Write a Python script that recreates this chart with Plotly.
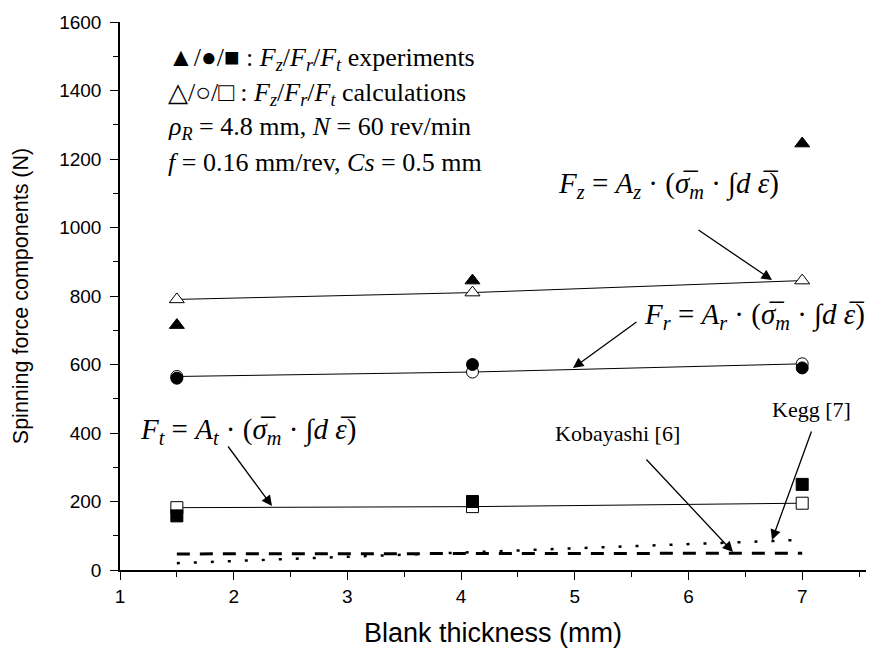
import plotly.graph_objects as go

thickness = [1.5, 4.1, 7.0]
fz_exp = [715, 845, 1245]
fz_calc = [790, 810, 845]
fr_exp = [560, 600, 590]
fr_calc = [565, 578, 602]
ft_exp = [158, 200, 250]
ft_calc = [182, 185, 195]
kobayashi = [47, 48, 49]
kegg = [20, 52, 88]

SERIF = "Liberation Serif, Times New Roman, serif"
SANS = "Liberation Sans, Arial, sans-serif"

fig = go.Figure()

# calculation lines
for ys in (fz_calc, fr_calc, ft_calc):
    fig.add_trace(go.Scatter(x=thickness, y=ys, mode="lines",
                             line=dict(color="black", width=1), showlegend=False))

fig.add_trace(go.Scatter(x=thickness, y=kobayashi, mode="lines",
                         line=dict(color="black", width=3, dash="13px,10px"), showlegend=False))
fig.add_trace(go.Scatter(x=thickness, y=kegg, mode="lines",
                         line=dict(color="black", width=2.5, dash="3px,14px"), showlegend=False))

def mk(ys, sym, filled):
    fig.add_trace(go.Scatter(
        x=thickness, y=ys, mode="markers", showlegend=False,
        marker=dict(symbol=sym, size=12 if sym != "triangle-up" else 13,
                    color="black" if filled else "white",
                    line=dict(color="black", width=1))))

mk(fz_calc, "triangle-up", False)
mk(fr_calc, "circle", False)
mk(ft_calc, "square", False)
mk(fz_exp, "triangle-up", True)
mk(fr_exp, "circle", True)
mk(ft_exp, "square", True)

ann = []
legend_lines = [
    "▲/●/■ : <i>F<sub>z</sub></i>/<i>F<sub>r</sub></i>/<i>F<sub>t</sub></i> experiments",
    "△/○/□ : <i>F<sub>z</sub></i>/<i>F<sub>r</sub></i>/<i>F<sub>t</sub></i> calculations",
    "<i>ρ<sub>R</sub></i> = 4.8 mm, <i>N</i> = 60 rev/min",
    "<i>f</i> = 0.16 mm/rev, <i>Cs</i> = 0.5 mm",
]
for i, t in enumerate(legend_lines):
    ann.append(dict(xref="paper", yref="paper", x=(166 - 120) / 746, y=(570 - (59 + 34.5 * i)) / 548,
                    text=t, showarrow=False, xanchor="left", yanchor="middle",
                    font=dict(family=SERIF, size=26, color="black")))

def formula(s):
    return (f"<i>F<sub>{s}</sub></i> = <i>A<sub>{s}</sub></i> · (<i>σ\u0305<sub>m</sub></i> · "
            f"∫<i>d ε\u0305</i>)")

def add_arrow(text, tx, ty, tail, head, size=22):
    ann.append(dict(xref="paper", yref="paper", x=(tx - 120) / 746, y=(570 - ty) / 548,
                    text=text, showarrow=False, xanchor="center", yanchor="middle",
                    font=dict(family=SERIF, size=size, color="black")))
    hx = 1 + (head[0] - 120) / 113.7
    hy = (570 - head[1]) / 0.3425
    ann.append(dict(x=hx, y=hy, xref="x", yref="y", text="", showarrow=True,
                    ax=tail[0] - head[0], ay=tail[1] - head[1], axref="pixel", ayref="pixel",
                    arrowhead=2, arrowsize=1.6, arrowwidth=1.3, arrowcolor="black"))

add_arrow(formula("z"), 668, 185, (697, 229), (772, 280), size=29)
add_arrow(formula("r"), 754, 316, (638, 321), (573, 368), size=29)
add_arrow(formula("t"), 248, 431, (227, 445), (272, 506), size=29)
add_arrow("Kobayashi [6]", 617, 433, (645, 458), (733, 552), size=22)
add_arrow("Kegg [7]", 811, 409, (812, 430), (772, 540), size=22)

fig.update_layout(
    width=871, height=655,
    margin=dict(l=120, r=5, t=22, b=85),
    plot_bgcolor="white", paper_bgcolor="white",
    annotations=ann,
    xaxis=dict(range=[1, 1 + 746 / 113.7], tickvals=[1, 2, 3, 4, 5, 6, 7],
               ticks="outside", ticklen=8, tickwidth=1.2, tickcolor="black",
               minor=dict(tickvals=[1.5, 2.5, 3.5, 4.5, 5.5, 6.5, 7.5], ticks="outside",
                          ticklen=5, tickcolor="black"),
               showline=True, linecolor="black", linewidth=1.5, showgrid=False, zeroline=False,
               tickfont=dict(family=SANS, size=19, color="black"),
               title=dict(text="Blank thickness (mm)", font=dict(family=SANS, size=27, color="black"),
                          standoff=18)),
    yaxis=dict(range=[0, 1600], tickvals=list(range(0, 1601, 200)),
               ticks="outside", ticklen=8, tickwidth=1.2, tickcolor="black",
               ticklabelstandoff=5,
               minor=dict(tickvals=list(range(100, 1600, 200)), ticks="outside",
                          ticklen=5, tickcolor="black"),
               showline=True, linecolor="black", linewidth=1.5, showgrid=False, zeroline=False,
               tickfont=dict(family=SANS, size=19, color="black"),
               title=dict(text="Spinning force components (N)",
                          font=dict(family=SANS, size=21.5, color="black"), standoff=25)),
)

fig.write_html("out.html")
